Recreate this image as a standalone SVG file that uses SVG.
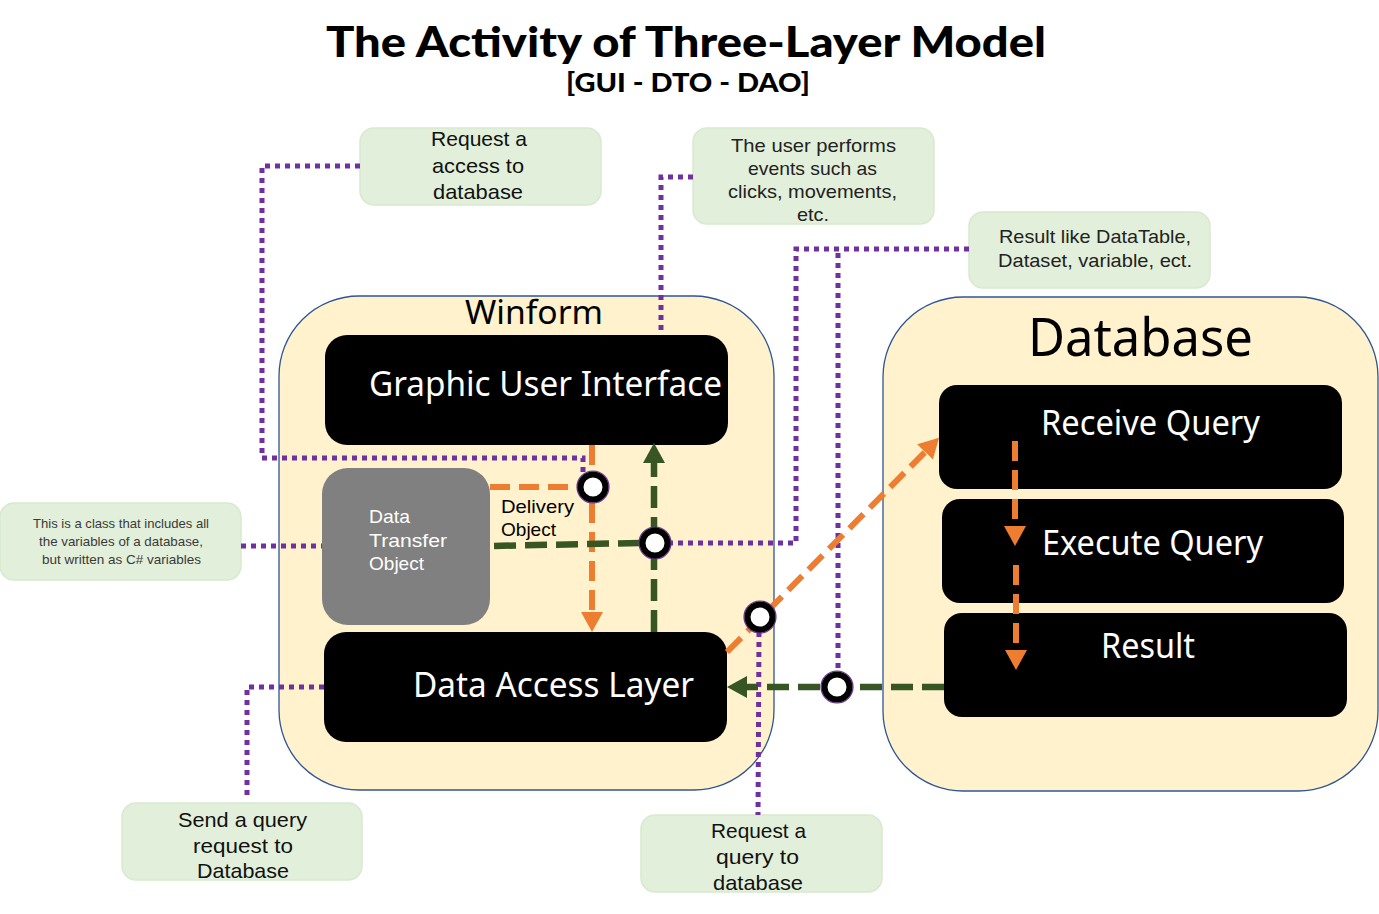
<svg xmlns="http://www.w3.org/2000/svg" width="1379" height="914" viewBox="0 0 1379 914">
<defs>
<marker id="ao" markerUnits="userSpaceOnUse" markerWidth="20" markerHeight="22" refX="0" refY="11" orient="auto" viewBox="0 0 20 22"><path d="M0,0 L20,11 L0,22 z" fill="#ED7D31"/></marker>
<marker id="ag" markerUnits="userSpaceOnUse" markerWidth="20" markerHeight="22" refX="0" refY="11" orient="auto" viewBox="0 0 20 22"><path d="M0,0 L20,11 L0,22 z" fill="#375623"/></marker>
</defs>
<style>
.cont{fill:#FFF2CC;stroke:#2F5597;stroke-width:1.3}
.box{fill:#000}
.dto{fill:#808080}
.note{fill:#E2EFDA;stroke:#D8EACE;stroke-width:1.5}
.wt{fill:#fff;font-family:"Noto Sans","DejaVu Sans",sans-serif}
.wm{fill:#fff;font-family:"Liberation Sans","DejaVu Sans",sans-serif}
.bt{fill:#000;font-family:"Noto Sans","DejaVu Sans",sans-serif}
.bm{fill:#000;font-family:"Liberation Sans","DejaVu Sans",sans-serif}
.nt{fill:#111;font-family:"Liberation Sans","DejaVu Sans",sans-serif;font-size:21px}
.ct{fill:#222;font-family:"Liberation Sans","DejaVu Sans",sans-serif;font-size:19px}
.sm{fill:#3A3A3A;font-family:"Liberation Sans","DejaVu Sans",sans-serif;font-size:13px}
.ttl{fill:#000;font-family:"Lato","Inter",sans-serif;font-weight:900}
.pur{fill:none;stroke:#7030A0;stroke-width:5;stroke-dasharray:5 5}
.or{fill:none;stroke:#ED7D31;stroke-width:6;stroke-dasharray:20 9}
.gr{fill:none;stroke:#375623;stroke-width:6.5;stroke-dasharray:22 9}
.kn{fill:#fff;stroke:#000;stroke-width:6}
.kr{fill:none;stroke:#7030A0;stroke-width:1.2}
</style>
<rect width="1379" height="914" fill="#fff"/>

<g id="title">
<text class="ttl" x="326" y="57" font-size="42" textLength="720" lengthAdjust="spacingAndGlyphs">The Activity of Three-Layer Model</text>
<text class="ttl" x="566" y="92" font-size="27" textLength="244" lengthAdjust="spacingAndGlyphs">[GUI - DTO - DAO]</text>
</g>

<g id="winform">
<rect class="cont" x="279" y="296" width="495" height="494" rx="80"/>
<text class="bt" x="465" y="324" font-size="33" textLength="138" lengthAdjust="spacingAndGlyphs">Winform</text>
</g>
<g id="database">
<rect class="cont" x="883" y="297" width="495" height="494" rx="80"/>
<text class="bt" x="1028" y="356" font-size="52" textLength="225" lengthAdjust="spacingAndGlyphs">Database</text>
</g>

<g id="gui">
<rect class="box" x="325" y="335" width="403" height="110" rx="22"/>
<text class="wt" x="369" y="396" font-size="34" textLength="353" lengthAdjust="spacingAndGlyphs">Graphic User Interface</text>
</g>
<g id="dto">
<rect class="dto" x="322" y="468" width="168" height="157" rx="26"/>
<text class="wm" x="369" y="523" font-size="19" textLength="41" lengthAdjust="spacingAndGlyphs">Data</text>
<text class="wm" x="369" y="547" font-size="19" textLength="78" lengthAdjust="spacingAndGlyphs">Transfer</text>
<text class="wm" x="369" y="570" font-size="19" textLength="55" lengthAdjust="spacingAndGlyphs">Object</text>
</g>
<g id="dal">
<rect class="box" x="324" y="632" width="403" height="110" rx="22"/>
<text class="wt" x="413" y="697" font-size="34" textLength="281" lengthAdjust="spacingAndGlyphs">Data Access Layer</text>
</g>
<g id="receive">
<rect class="box" x="939" y="385" width="403" height="104" rx="18"/>
<text class="wt" x="1041" y="435" font-size="34" textLength="219" lengthAdjust="spacingAndGlyphs">Receive Query</text>
</g>
<g id="execute">
<rect class="box" x="942" y="499" width="402" height="104" rx="18"/>
<text class="wt" x="1042" y="555" font-size="34" textLength="221" lengthAdjust="spacingAndGlyphs">Execute Query</text>
</g>
<g id="result">
<rect class="box" x="944" y="613" width="403" height="104" rx="18"/>
<text class="wt" x="1101" y="658" font-size="34" textLength="94" lengthAdjust="spacingAndGlyphs">Result</text>
</g>

<g id="note-access">
<rect class="note" x="360" y="128" width="241" height="77" rx="14"/>
<text class="nt" x="431" y="146" textLength="96" lengthAdjust="spacingAndGlyphs">Request a</text>
<text class="nt" x="432" y="173" textLength="92" lengthAdjust="spacingAndGlyphs">access to</text>
<text class="nt" x="433" y="199" textLength="90" lengthAdjust="spacingAndGlyphs">database</text>
</g>
<g id="note-events">
<rect class="note" x="693" y="128" width="241" height="96" rx="14"/>
<text class="ct" x="731" y="152" textLength="165" lengthAdjust="spacingAndGlyphs">The user performs</text>
<text class="ct" x="748" y="175" textLength="129" lengthAdjust="spacingAndGlyphs">events such as</text>
<text class="ct" x="728" y="198" textLength="169" lengthAdjust="spacingAndGlyphs">clicks, movements,</text>
<text class="ct" x="797" y="221" textLength="32" lengthAdjust="spacingAndGlyphs">etc.</text>
</g>
<g id="note-result">
<rect class="note" x="969" y="212" width="241" height="76" rx="14"/>
<text class="ct" x="999" y="243" fill="#000" textLength="192" lengthAdjust="spacingAndGlyphs">Result like DataTable,</text>
<text class="ct" x="998" y="267" fill="#000" textLength="194" lengthAdjust="spacingAndGlyphs">Dataset, variable, ect.</text>
</g>
<g id="note-class">
<rect class="note" x="0" y="503" width="241" height="77" rx="14"/>
<text class="sm" x="33" y="528" textLength="176" lengthAdjust="spacingAndGlyphs">This is a class that includes all</text>
<text class="sm" x="39" y="546" textLength="164" lengthAdjust="spacingAndGlyphs">the variables of a database,</text>
<text class="sm" x="42" y="564" textLength="159" lengthAdjust="spacingAndGlyphs">but written as C# variables</text>
</g>
<g id="note-send">
<rect class="note" x="122" y="803" width="240" height="77" rx="14"/>
<text class="nt" x="178" y="827" textLength="129" lengthAdjust="spacingAndGlyphs">Send a query</text>
<text class="nt" x="193" y="853" textLength="100" lengthAdjust="spacingAndGlyphs">request to</text>
<text class="nt" x="197" y="878" textLength="92" lengthAdjust="spacingAndGlyphs">Database</text>
</g>
<g id="note-query">
<rect class="note" x="641" y="815" width="241" height="77" rx="14"/>
<text class="nt" x="711" y="838" textLength="95" lengthAdjust="spacingAndGlyphs">Request a</text>
<text class="nt" x="716" y="864" textLength="83" lengthAdjust="spacingAndGlyphs">query to</text>
<text class="nt" x="713" y="890" textLength="90" lengthAdjust="spacingAndGlyphs">database</text>
</g>

<g id="connectors">
<path class="pur" d="M360,166 H262 V458 H583 V472"/>
<path class="pur" d="M693,177 H661 V335"/>
<path class="pur" d="M969,249 H796 V543 H670"/>
<path class="pur" d="M838,253 V672"/>
<path class="pur" d="M241,546 H322"/>
<path class="pur" d="M324,687 H247 V800"/>
<path class="pur" d="M759,632 L758,815"/>

<path class="or" d="M490,487 H580"/>
<path class="or" d="M592,445 V612" marker-end="url(#ao)"/>
<path class="or" d="M727,652 L925,452" marker-end="url(#ao)"/>
<path class="or" d="M1015,441 V526" marker-end="url(#ao)"/>
<path class="or" d="M1016,565 V650" marker-end="url(#ao)"/>

<path class="gr" d="M654,632 V463" marker-end="url(#ag)"/>
<path class="gr" d="M640,543 L490,546"/>
<path class="gr" d="M944,687 H747" marker-end="url(#ag)"/>

<g id="junctions">
<circle class="kr" cx="593" cy="487" r="16"/><circle class="kn" cx="593" cy="487" r="12.5"/>
<circle class="kr" cx="655" cy="543" r="16"/><circle class="kn" cx="655" cy="543" r="12.5"/>
<circle class="kr" cx="760" cy="617" r="16"/><circle class="kn" cx="760" cy="617" r="12.5"/>
<circle class="kr" cx="837" cy="687" r="16"/><circle class="kn" cx="837" cy="687" r="12.5"/>
</g>
</g>

<g id="label-delivery">
<text class="bm" x="501" y="513" font-size="19" textLength="73" lengthAdjust="spacingAndGlyphs">Delivery</text>
<text class="bm" x="501" y="536" font-size="19" textLength="55" lengthAdjust="spacingAndGlyphs">Object</text>
</g>
</svg>
